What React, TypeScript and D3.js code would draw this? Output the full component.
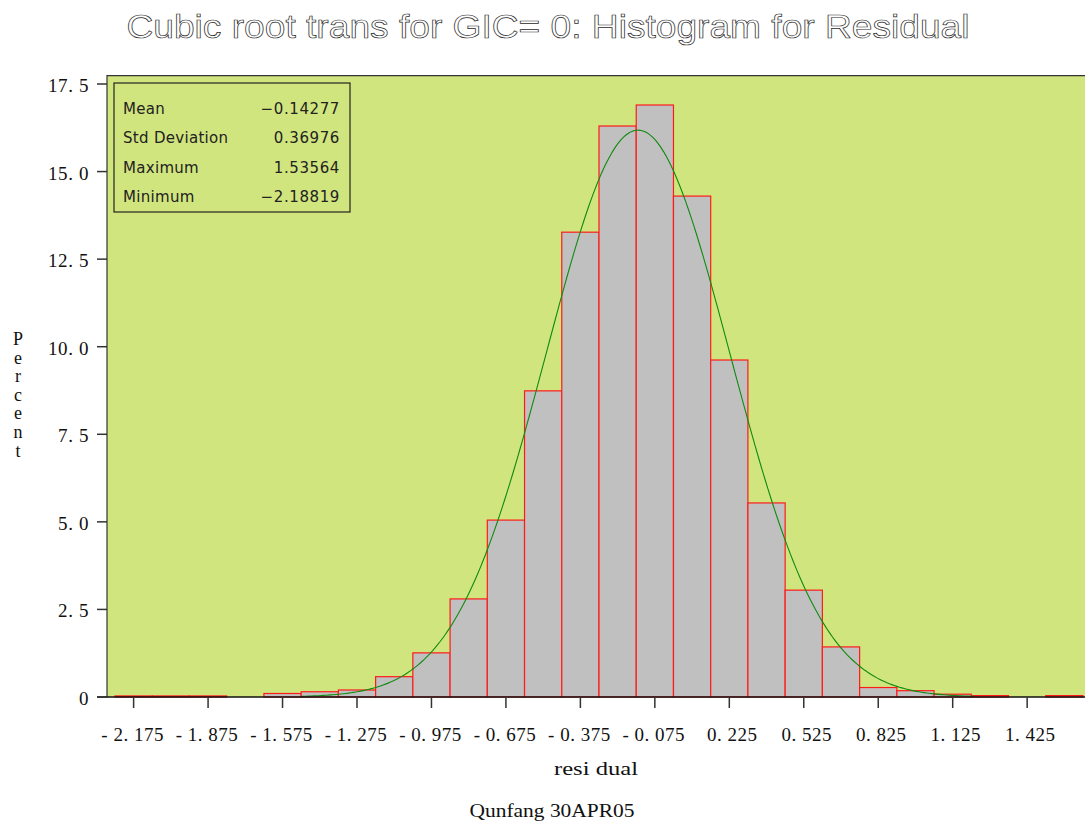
import * as d3 from 'd3'
import { useEffect, useRef } from 'react'

const width = 1085
const height = 827

// bin midpoints of the residual histogram (bin width 0.15)
const binMids = [
  -2.175, -2.025, -1.875, -1.725, -1.575, -1.425, -1.275, -1.125, -0.975, -0.825,
  -0.675, -0.525, -0.375, -0.225, -0.075, 0.075, 0.225, 0.375, 0.525, 0.675,
  0.825, 0.975, 1.125, 1.275, 1.425, 1.575,
]
const percents = [
  0.03, 0.03, 0.03, 0, 0.1, 0.15, 0.2, 0.58, 1.26, 2.8,
  5.05, 8.74, 13.27, 16.3, 16.9, 14.3, 9.62, 5.54, 3.05, 1.43,
  0.27, 0.18, 0.08, 0.04, 0, 0.04,
]
const binWidth = 0.15

const xTicks = [-2.175, -1.875, -1.575, -1.275, -0.975, -0.675, -0.375, -0.075, 0.225, 0.525, 0.825, 1.125, 1.425]
const yTicks = [0, 2.5, 5, 7.5, 10, 12.5, 15, 17.5]

const statLabels = ['Mean', 'Std Deviation', 'Maximum', 'Minimum']
const statValues = [-0.14277, 0.36976, 1.53564, -2.18819]

// fitted normal curve drawn over this range
const curveRange = [-1.5, 1.215]

const plotLeft = 107
const plotRight = 1085
const plotTop = 75.6
const plotBottom = 697

export default function App() {
  const ref = useRef(null)

  useEffect(() => {
    const svg = d3.select(ref.current)
    svg.selectAll('*').remove()

    const x = d3.scaleLinear([-2.25, 1.65], [115, 1083])
    const y = d3.scaleLinear([0, 17.5], [plotBottom, 84])

    // title
    svg
      .append('text')
      .attr('x', 548)
      .attr('y', 38)
      .attr('text-anchor', 'middle')
      .attr('font-family', 'Liberation Sans, Arial, sans-serif')
      .attr('font-size', 34)
      .attr('fill', 'white')
      .attr('stroke', '#2a2a2a')
      .attr('stroke-width', 0.7)
      .attr('textLength', 843)
      .attr('lengthAdjust', 'spacingAndGlyphs')
      .text('Cubic root trans for GIC= 0: Histogram for Residual')

    // plot background
    svg
      .append('rect')
      .attr('x', plotLeft)
      .attr('y', plotTop)
      .attr('width', plotRight - plotLeft)
      .attr('height', plotBottom - plotTop)
      .attr('fill', '#d1e57e')
    svg
      .append('path')
      .attr('d', `M${plotRight},${plotTop}H${plotLeft}V${plotBottom}`)
      .attr('fill', 'none')
      .attr('stroke', '#333')
      .attr('stroke-width', 1.2)

    // bars
    svg
      .append('g')
      .selectAll('rect')
      .data(binMids.map((m, i) => ({ m, p: percents[i] })).filter(d => d.p > 0))
      .join('rect')
      .attr('x', d => x(d.m - binWidth / 2))
      .attr('y', d => y(d.p))
      .attr('width', d => x(d.m + binWidth / 2) - x(d.m - binWidth / 2))
      .attr('height', d => y(0) - y(d.p))
      .attr('fill', '#c0c0c0')
      .attr('stroke', '#ff1a1a')
      .attr('stroke-width', 1.2)

    // normal curve from the displayed mean and std deviation
    const mean = statValues[0]
    const sd = statValues[1]
    const curveX = d3.range(curveRange[0], curveRange[1] + 1e-9, 0.01)
    const line = d3
      .line<number>()
      .x(v => x(v))
      .y(v => y((100 * binWidth * Math.exp(-0.5 * ((v - mean) / sd) ** 2)) / (sd * Math.sqrt(2 * Math.PI))))
    svg
      .append('path')
      .attr('d', line(curveX))
      .attr('fill', 'none')
      .attr('stroke', '#108a10')
      .attr('stroke-width', 1.1)

    // x axis
    svg
      .append('line')
      .attr('x1', 97)
      .attr('x2', plotRight)
      .attr('y1', plotBottom)
      .attr('y2', plotBottom)
      .attr('stroke', '#111')
      .attr('stroke-width', 1.5)
    const fmt = (v: number, p: number) => d3.format(`.${p}f`)(v).replace('.', '. ').replace('−', '-')
    const xg = svg.append('g')
    xg.selectAll('line')
      .data(xTicks)
      .join('line')
      .attr('x1', d => x(d))
      .attr('x2', d => x(d))
      .attr('y1', plotBottom)
      .attr('y2', 708)
      .attr('stroke', '#333')
      .attr('stroke-width', 1.5)
    xg.selectAll('text')
      .data(xTicks)
      .join('text')
      .attr('x', d => x(d) + (d < 0 ? -1 : 3))
      .attr('y', 741)
      .attr('text-anchor', 'middle')
      .attr('font-family', 'Liberation Serif, serif')
      .attr('font-size', 19)
      .attr('letter-spacing', 0.5)
      .attr('fill', '#111')
      .text(d => fmt(d, 3).replace('-', '- '))

    // y axis
    const yg = svg.append('g')
    yg.selectAll('line')
      .data(yTicks)
      .join('line')
      .attr('x1', 97)
      .attr('x2', plotLeft)
      .attr('y1', d => y(d))
      .attr('y2', d => y(d))
      .attr('stroke', '#333')
      .attr('stroke-width', 1.5)
    yg.selectAll('text')
      .data(yTicks)
      .join('text')
      .attr('x', 89)
      .attr('y', d => y(d) + 8)
      .attr('text-anchor', 'end')
      .attr('font-family', 'Liberation Serif, serif')
      .attr('font-size', 19)
      .attr('letter-spacing', 0.6)
      .attr('fill', '#111')
      .text(d => (d === 0 ? '0' : fmt(d, 1)))

    // y label, stacked letters
    svg
      .append('g')
      .selectAll('text')
      .data('Percent'.split(''))
      .join('text')
      .attr('x', 18)
      .attr('y', (_, i) => 345 + i * 18.6)
      .attr('text-anchor', 'middle')
      .attr('font-family', 'Liberation Serif, serif')
      .attr('font-size', 18)
      .attr('fill', '#111')
      .text(d => d)

    // x label and footnote
    svg
      .append('text')
      .attr('x', 596)
      .attr('y', 775)
      .attr('text-anchor', 'middle')
      .attr('font-family', 'Liberation Serif, serif')
      .attr('font-size', 18)
      .attr('textLength', 84)
      .attr('lengthAdjust', 'spacingAndGlyphs')
      .attr('fill', '#111')
      .text('resi dual')
    svg
      .append('text')
      .attr('x', 552)
      .attr('y', 817)
      .attr('text-anchor', 'middle')
      .attr('font-family', 'Liberation Serif, serif')
      .attr('font-size', 19)
      .attr('textLength', 165)
      .attr('lengthAdjust', 'spacingAndGlyphs')
      .attr('fill', '#111')
      .text('Qunfang 30APR05')

    // statistics inset
    svg
      .append('rect')
      .attr('x', 114)
      .attr('y', 83)
      .attr('width', 236)
      .attr('height', 129)
      .attr('fill', 'none')
      .attr('stroke', '#222')
      .attr('stroke-width', 1.2)
    const sg = svg.append('g').attr('font-family', 'DejaVu Sans, sans-serif').attr('font-size', 15).attr('fill', '#222')
    sg.selectAll('text.lab')
      .data(statLabels)
      .join('text')
      .attr('class', 'lab')
      .attr('x', 123)
      .attr('y', (_, i) => 114 + i * 29.3)
      .attr('letter-spacing', 0.3)
      .text(d => d)
    sg.selectAll('text.val')
      .data(statValues)
      .join('text')
      .attr('class', 'val')
      .attr('x', 340)
      .attr('y', (_, i) => 114 + i * 29.3)
      .attr('text-anchor', 'end')
      .attr('letter-spacing', 0.6)
      .text(d => (d < 0 ? '\u2212' : '') + Math.abs(d).toFixed(5))
  }, [])

  return (
    <svg
      ref={ref}
      width={width}
      height={height}
      viewBox={`0 0 ${width} ${height}`}
      style={{ position: 'absolute', left: 0, top: 0, background: 'white' }}
    ></svg>
  )
}
